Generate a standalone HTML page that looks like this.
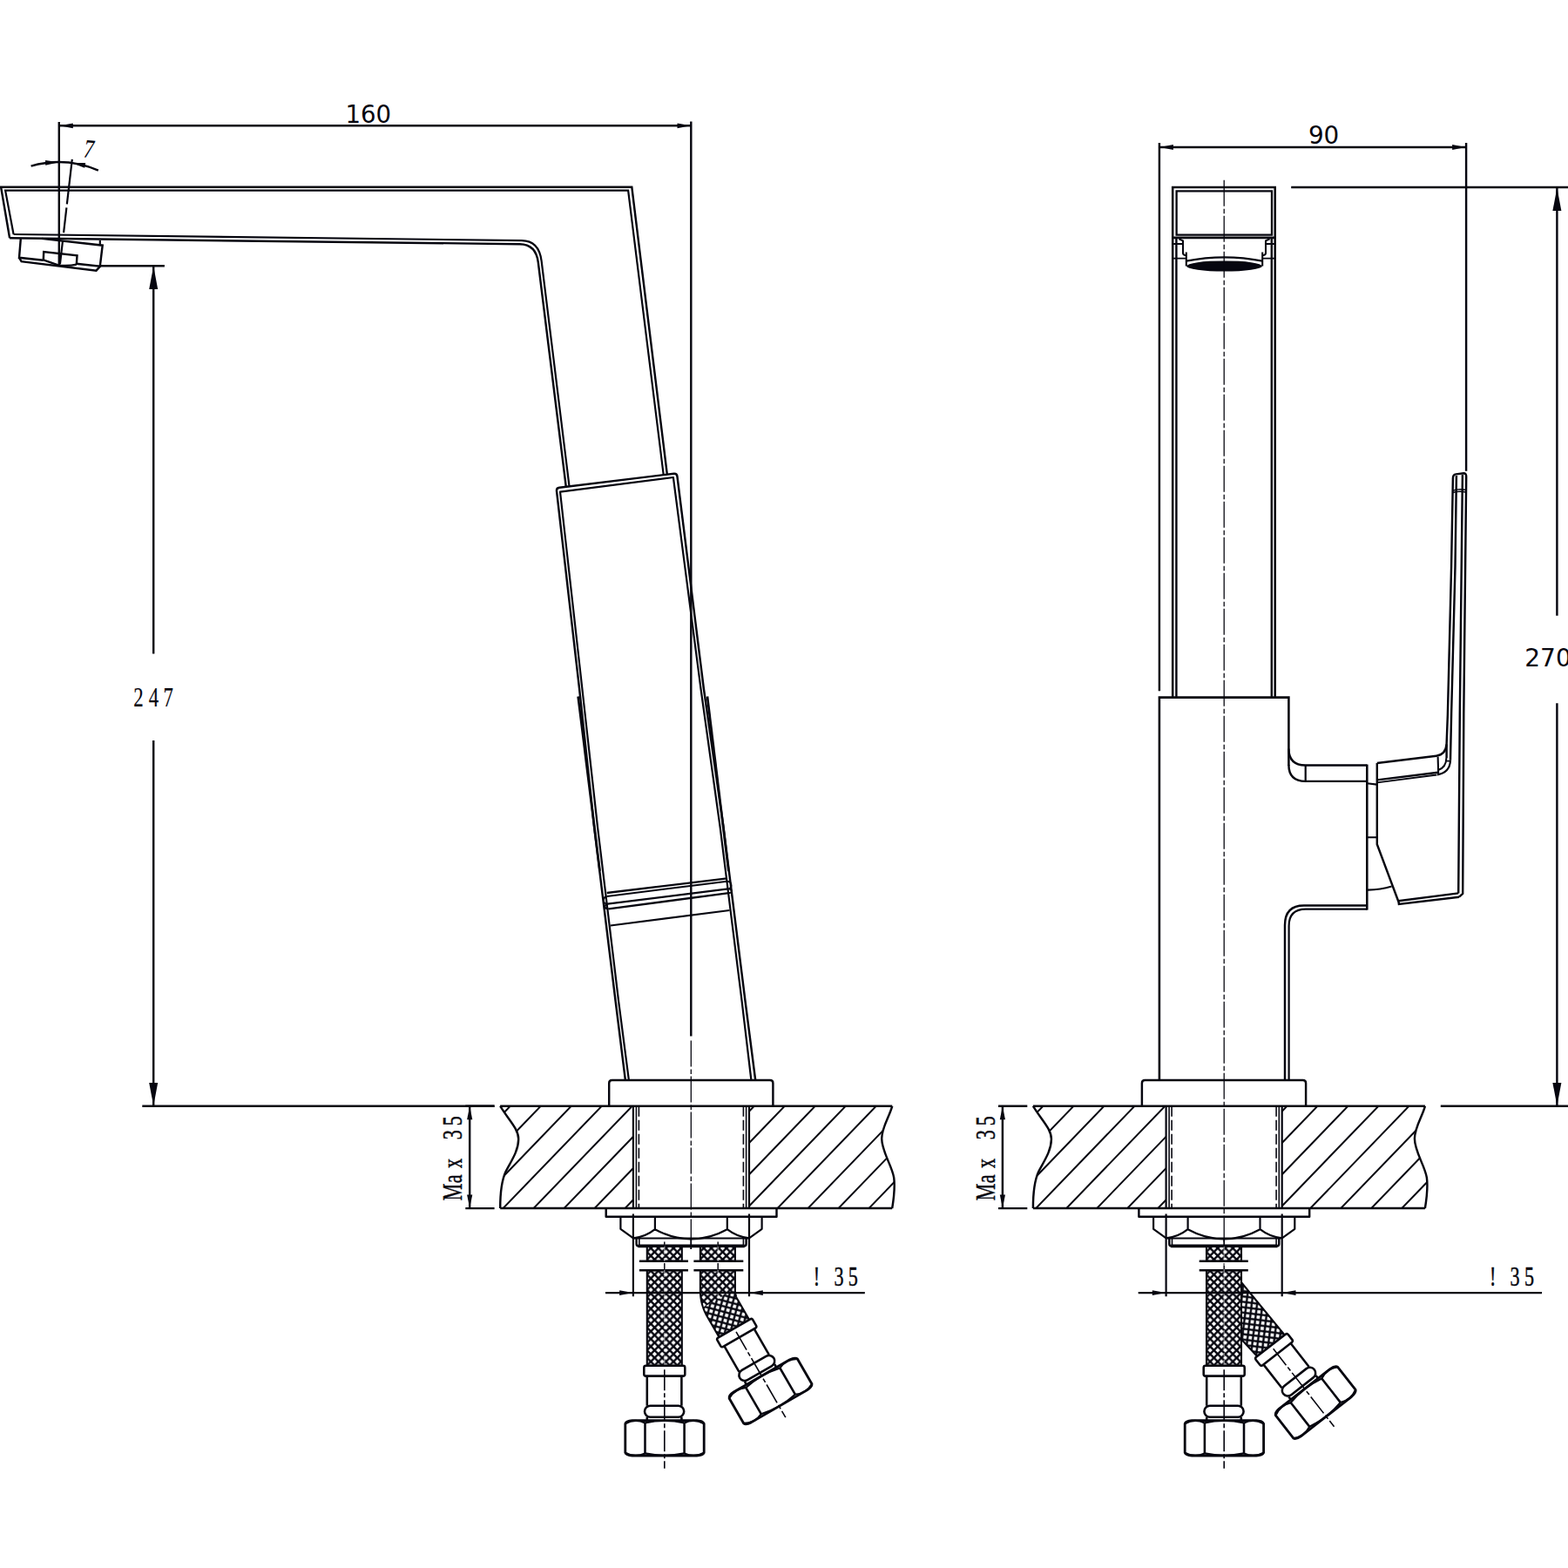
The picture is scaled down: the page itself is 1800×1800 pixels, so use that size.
<!DOCTYPE html>
<html lang="en">
<head>
<meta charset="utf-8">
<title>Faucet dimensional drawing</title>
<style>
html,body{margin:0;padding:0;background:#fff;}
body{width:1800px;height:1800px;overflow:hidden;}
svg{display:block;}
</style>
</head>
<body>
<svg width="1800" height="1800" viewBox="0 0 1800 1800" stroke="#06060f" fill="none" stroke-linecap="butt" stroke-linejoin="round">
<rect x="0" y="0" width="1800" height="1800" fill="#fff" stroke="none"/>
<defs>
<clipPath id="clipL"><path d="M574.2,1269.7 C584,1286 595.5,1296 595.2,1308 C595,1322 586,1334 580.5,1345 C575.5,1356 574.2,1370 574.2,1387.1 L726.9,1387.1 L726.9,1269.7 Z"/></clipPath>
<clipPath id="clipR"><path d="M1024.2,1269.7 C1021.5,1281 1012.2,1294 1012.2,1307 C1012.2,1322 1024,1338 1026.2,1352 C1027.8,1364 1026,1376 1024.2,1387.1 L860,1387.1 L860,1269.7 Z"/></clipPath>
<g id="deck"><g clip-path="url(#clipL)"><path d="M434.5,1390.2 L553.8,1266.6 M469.5,1390.2 L588.8,1266.6 M504.5,1390.2 L623.8,1266.6 M539.5,1390.2 L658.8,1266.6 M574.5,1390.2 L693.8,1266.6 M609.5,1390.2 L728.8,1266.6 M644.5,1390.2 L763.8,1266.6 M679.5,1390.2 L798.8,1266.6 M714.5,1390.2 L833.8,1266.6 M749.5,1390.2 L868.8,1266.6 M784.5,1390.2 L903.8,1266.6 M819.5,1390.2 L938.8,1266.6 M854.5,1390.2 L973.8,1266.6 M889.5,1390.2 L1008.8,1266.6 M924.5,1390.2 L1043.8,1266.6 M959.5,1390.2 L1078.8,1266.6 M994.5,1390.2 L1113.8,1266.6 M1029.5,1390.2 L1148.8,1266.6 M1064.5,1390.2 L1183.8,1266.6 M1099.5,1390.2 L1218.8,1266.6" stroke-width="2.01" fill="none"/></g><g clip-path="url(#clipR)"><path d="M434.5,1390.2 L553.8,1266.6 M469.5,1390.2 L588.8,1266.6 M504.5,1390.2 L623.8,1266.6 M539.5,1390.2 L658.8,1266.6 M574.5,1390.2 L693.8,1266.6 M609.5,1390.2 L728.8,1266.6 M644.5,1390.2 L763.8,1266.6 M679.5,1390.2 L798.8,1266.6 M714.5,1390.2 L833.8,1266.6 M749.5,1390.2 L868.8,1266.6 M784.5,1390.2 L903.8,1266.6 M819.5,1390.2 L938.8,1266.6 M854.5,1390.2 L973.8,1266.6 M889.5,1390.2 L1008.8,1266.6 M924.5,1390.2 L1043.8,1266.6 M959.5,1390.2 L1078.8,1266.6 M994.5,1390.2 L1113.8,1266.6 M1029.5,1390.2 L1148.8,1266.6 M1064.5,1390.2 L1183.8,1266.6 M1099.5,1390.2 L1218.8,1266.6" stroke-width="2.01" fill="none"/></g><path d="M574.2,1269.7 C584,1286 595.5,1296 595.2,1308 C595,1322 586,1334 580.5,1345 C575.5,1356 574.2,1370 574.2,1387.1" stroke-width="2.44" fill="none"/><path d="M1024.2,1269.7 C1021.5,1281 1012.2,1294 1012.2,1307 C1012.2,1322 1024,1338 1026.2,1352 C1027.8,1364 1026,1376 1024.2,1387.1" stroke-width="2.44" fill="none"/><path d="M574.2,1269.7 L1024.2,1269.7 M574.2,1387.1 L1024.2,1387.1" stroke-width="2.5" fill="none"/><path d="M726.9,1269.7 L726.9,1387 M860,1269.7 L860,1387 M726.9,1393.6 L726.9,1488.3 M860,1393.6 L860,1488.3" stroke-width="2.2" fill="none"/><path d="M730.4,1269.7 L730.4,1387.1 M856.6,1269.7 L856.6,1387.1" stroke-width="1.59" fill="none"/><path d="M733.4,1269.7 L733.4,1387.1 M853.4,1269.7 L853.4,1387.1" stroke-width="1.59" fill="none" stroke-dasharray="12 4"/><path d="M695.7,1387.1 L695.7,1396.8 L891.5,1396.8 L891.5,1387.1" stroke-width="2.44" fill="none"/><path d="M712.4,1396.8 L712.4,1410.8 L727.0,1421.3 M874.6,1396.8 L874.6,1410.8 L860,1421.3 M751.9,1396.8 L751.9,1411.2 M834.8,1396.8 L834.8,1411.2 M727.0,1421.3 Q741,1420 751.9,1411.2 Q772,1422.3 793.3,1422.3 Q815,1422.3 834.8,1411.2 Q846,1420 860,1421.3" stroke-width="2.2" fill="none"/><path d="M728,1421.5 L858.8,1421.5" stroke-width="2.2" fill="none"/><path d="M730.6,1421.5 L730.6,1428 Q730.6,1430.6 733.4,1430.6 L853.8,1430.6 Q856.6,1430.6 856.6,1428 L856.6,1421.5" stroke-width="2.44" fill="none"/><path d="M732.5,1430.3 L854.6,1430.3" stroke-width="3.66" fill="none"/><path d="M733.8,1421.5 L733.8,1430 M853.4,1421.5 L853.4,1430" stroke-width="1.59" fill="none"/></g>
<g id="max35"><path d="M534.3,1387.1 L567.6,1387.1 M534.3,1269.7 L567.6,1269.7 M539.2,1269.7 L539.2,1387.1" stroke-width="2.44" fill="none"/><polygon points="539.2,1270.1 536.1,1285.3 542.3,1285.3" fill="#06060f" stroke="none"/><polygon points="539.2,1386.7 536.1,1371.5 542.3,1371.5" fill="#06060f" stroke="none"/></g>
<g id="fit"><rect x="-23.5" y="0" width="47" height="11.8" rx="2.2" ry="2.2" stroke-width="2.56" fill="#fff"/><path d="M-20,11.8 L-20,46 M19.6,11.8 L19.6,46" stroke-width="2.56" fill="none"/><rect x="-22.8" y="45.9" width="45.2" height="13" rx="6.5" ry="6.5" stroke-width="2.56" fill="#fff"/><path d="M-20,58.9 L-20,63 M19.6,58.9 L19.6,63" stroke-width="2.56" fill="none"/><path d="M-45,66.6 Q-44,63.3 -37,62.9 L37,62.9 Q44,63.3 45.4,66.6 L45.4,99.8 Q44,102.8 37,103.2 L-37,103.2 Q-44,102.8 -45,99.8 Z" stroke-width="2.81" fill="#fff"/><path d="M-45,66.6 Q-34,60.2 -22.3,65.6 Q0,60.6 22.8,65.6 Q34,60.2 45.4,66.6 M-45,99.8 Q-34,106 -22.3,100.6 Q0,105.6 22.8,100.6 Q34,106 45.4,99.8" stroke-width="2.2" fill="none"/><path d="M-22.3,65.4 L-22.3,100.8 M22.8,65.4 L22.8,100.8" stroke-width="2.56" fill="none"/><path d="M0,4.5 L0,118" stroke-width="1.59" fill="none" stroke-dasharray="24 3 5 3"/></g>
<pattern id="braid" width="8.68" height="8.68" patternUnits="userSpaceOnUse" patternTransform="translate(747.1,1437.2)"><rect width="8.68" height="8.68" fill="#06060f" stroke="none"/><path d="M1.66,4.34 L4.34,1.66 L7.02,4.34 L4.34,7.02 Z M-2.68,0 L0,-2.68 L2.68,0 L0,2.68 Z M6,0 L8.68,-2.68 L11.36,0 L8.68,2.68 Z M-2.68,8.68 L0,6 L2.68,8.68 L0,11.36 Z M6,8.68 L8.68,6 L11.36,8.68 L8.68,11.36 Z" fill="#fff" stroke="none"/></pattern>
<pattern id="braid30" width="8.68" height="8.68" patternUnits="userSpaceOnUse" patternTransform="translate(842.8,1525) rotate(-30)"><rect width="8.68" height="8.68" fill="#06060f" stroke="none"/><path d="M1.66,4.34 L4.34,1.66 L7.02,4.34 L4.34,7.02 Z M-2.68,0 L0,-2.68 L2.68,0 L0,2.68 Z M6,0 L8.68,-2.68 L11.36,0 L8.68,2.68 Z M-2.68,8.68 L0,6 L2.68,8.68 L0,11.36 Z M6,8.68 L8.68,6 L11.36,8.68 L8.68,11.36 Z" fill="#fff" stroke="none"/></pattern>
<pattern id="braid38" width="8.68" height="8.68" patternUnits="userSpaceOnUse" patternTransform="translate(1458.9,1544.75) rotate(-38)"><rect width="8.68" height="8.68" fill="#06060f" stroke="none"/><path d="M1.66,4.34 L4.34,1.66 L7.02,4.34 L4.34,7.02 Z M-2.68,0 L0,-2.68 L2.68,0 L0,2.68 Z M6,0 L8.68,-2.68 L11.36,0 L8.68,2.68 Z M-2.68,8.68 L0,6 L2.68,8.68 L0,11.36 Z M6,8.68 L8.68,6 L11.36,8.68 L8.68,11.36 Z" fill="#fff" stroke="none"/></pattern>
<pattern id="braidf" width="8.68" height="8.68" patternUnits="userSpaceOnUse" patternTransform="translate(1389.2,1437.2)"><rect width="8.68" height="8.68" fill="#06060f" stroke="none"/><path d="M1.66,4.34 L4.34,1.66 L7.02,4.34 L4.34,7.02 Z M-2.68,0 L0,-2.68 L2.68,0 L0,2.68 Z M6,0 L8.68,-2.68 L11.36,0 L8.68,2.68 Z M-2.68,8.68 L0,6 L2.68,8.68 L0,11.36 Z M6,8.68 L8.68,6 L11.36,8.68 L8.68,11.36 Z" fill="#fff" stroke="none"/></pattern>
</defs>
<g id="side-view">
<line x1="67.8" y1="140" x2="67.8" y2="304.5" stroke-width="2.44"/>
<line x1="793.3" y1="139.5" x2="793.3" y2="1189.6" stroke-width="2.44"/>
<line x1="67.8" y1="144.3" x2="793.3" y2="144.3" stroke-width="2.44"/>
<polygon points="68.3,144.3 83.8,141.4 83.8,147.2" fill="#06060f" stroke="none"/>
<polygon points="793,144.3 777.5,147.2 777.5,141.4" fill="#06060f" stroke="none"/>
<text x="422.8" y="141.2" font-family="'DejaVu Sans','Liberation Sans',sans-serif" font-size="27.6" text-anchor="middle" fill="#06060f" stroke="none">160</text>
<path d="M35.6,190.6 A116,116 0 0 1 112.8,195.6" stroke-width="2.44" fill="none"/>
<polygon points="67.6,186.2 52.23,189.72 52,183.92" fill="#06060f" stroke="none"/>
<polygon points="82.4,187.1 98.17,186.99 97.14,192.7" fill="#06060f" stroke="none"/>
<line x1="82.8" y1="182.8" x2="68.9" y2="303.3" stroke-width="2.2" stroke-dasharray="52 4 29 9 40 0"/>
<text transform="translate(95.6,180.4) rotate(4) scale(0.78,1)" font-family="'Liberation Serif',serif" font-style="italic" font-size="30" fill="#06060f" stroke="none">7</text>
<path d="M11.1,273.3 L1.1,214.7 L725.3,214.7 L765.9,545.1" stroke-width="2.44" fill="none" stroke-linejoin="miter"/>
<path d="M11.1,273.3 L596.7,280.2 Q615.23,280.42 617.8,301.1 L649.8,559" stroke-width="2.44" fill="none"/>
<path d="M15.6,269 L6.1,218.6 L721.1,218.6 L761.8,545.8" stroke-width="2.2" fill="none" stroke-linejoin="miter"/>
<path d="M15.6,269 L598.9,276.1 Q618.74,276.34 621.6,299.5 L653.6,559" stroke-width="2.2" fill="none"/>
<path d="M48,273.9 L117.7,281.7 L114.8,305.6 L87.8,302.8" stroke-width="2.44" fill="none" stroke-linejoin="miter"/>
<path d="M23.8,274.1 L22,295.8 L49.8,298.7" stroke-width="2.44" fill="none" stroke-linejoin="miter"/>
<path d="M22,295.8 L24.6,300.1 L110.5,310.6 L114.8,305.9" stroke-width="2.44" fill="none" stroke-linejoin="miter"/>
<line x1="114.8" y1="276" x2="114.8" y2="281.2" stroke-width="2.2"/>
<path d="M49.8,298.6 L50.2,289 L88.5,293.3 L87.8,304.0" stroke-width="2.44" fill="none" stroke-linejoin="miter"/>
<path d="M49.8,298.4 L67.5,304.6 Q80,305.4 87.8,303.6" stroke-width="2.2" fill="none"/>
<line x1="114.8" y1="305.2" x2="188.9" y2="305.2" stroke-width="2.44"/>
<line x1="176.2" y1="306" x2="176.2" y2="750.6" stroke-width="2.44"/>
<line x1="176.2" y1="850" x2="176.2" y2="1269" stroke-width="2.44"/>
<polygon points="176.2,305.6 181.2,332.1 171.2,332.1" fill="#06060f" stroke="none"/>
<polygon points="176.2,1269.4 171.2,1242.9 181.2,1242.9" fill="#06060f" stroke="none"/>
<line x1="163.3" y1="1269.7" x2="567.6" y2="1269.7" stroke-width="2.44"/>
<text transform="translate(176,811) rotate(0) scale(0.7,1)" x="-32.41 -7.41 16.45" y="0" font-family="'Liberation Serif','DejaVu Serif',serif" font-size="32.5" fill="#06060f" stroke="#06060f" stroke-width="0.2" xml:space="preserve">247</text>
<path d="M717.9,1240 L706.7,1150 L682.2,950 L665,790 L639,563.68 Q638.6,560.2 642.07,559.78 L773.53,543.72 Q777,543.3 777.43,546.77 L807.8,790 L830.6,950 L855.6,1150 L867.2,1240" stroke-width="2.44" fill="none"/>
<path d="M721.9,1240 L710.2,1150 L686.1,950 L668.3,790 L643,564.6 L772.9,548 L804.4,790 L826.7,950 L851.7,1150 L862.4,1240" stroke-width="2.2" fill="none" stroke-linejoin="round"/>
<line x1="663.6" y1="799.5" x2="688.6" y2="1000" stroke-width="2.68"/>
<line x1="812" y1="799.5" x2="836.4" y2="1000" stroke-width="2.68"/>
<line x1="696.7" y1="1025" x2="834.6" y2="1008.3" stroke-width="2.32"/>
<line x1="696.7" y1="1029" x2="834.6" y2="1011.7" stroke-width="2.07"/>
<line x1="697.5" y1="1037.7" x2="835.8" y2="1020.4" stroke-width="2.32"/>
<line x1="698.75" y1="1043.3" x2="836.7" y2="1025.2" stroke-width="2.32"/>
<line x1="700.8" y1="1062.5" x2="837.5" y2="1045" stroke-width="2.07"/>
<path d="M696.7,1029 Q692.6,1030 692.9,1034 Q693.3,1037.6 697.5,1037.7 Q694.2,1038.6 694.4,1041 Q694.8,1043.4 698.75,1043.3" stroke-width="1.95" fill="none"/>
<path d="M834.6,1011.7 Q838.8,1011.6 839.4,1015.8 Q839.8,1020 835.8,1020.4 Q839.6,1020.6 840,1022.8 Q840.2,1025 836.7,1025.2" stroke-width="1.95" fill="none"/>
<path d="M699.2,1269.7 L699.2,1243.4 Q699.2,1240 702.6,1240 L884.0,1240 Q887.4,1240 887.4,1243.4 L887.4,1269.7" stroke-width="2.44" fill="none"/>
<line x1="793.3" y1="1194.5" x2="793.3" y2="1434" stroke-width="1.28" stroke-dasharray="30 3 5.5 2.5"/>
</g>
<g id="front-view">
<line x1="1330.9" y1="164" x2="1330.9" y2="793.3" stroke-width="2.44"/>
<line x1="1683.1" y1="164" x2="1683.1" y2="540.8" stroke-width="2.44"/>
<line x1="1330.9" y1="169" x2="1683.1" y2="169" stroke-width="2.44"/>
<polygon points="1331.4,169 1346.9,166.1 1346.9,171.9" fill="#06060f" stroke="none"/>
<polygon points="1682.6,169 1667.1,171.9 1667.1,166.1" fill="#06060f" stroke="none"/>
<text x="1519.6" y="165" font-family="'DejaVu Sans','Liberation Sans',sans-serif" font-size="27.8" text-anchor="middle" fill="#06060f" stroke="none">90</text>
<path d="M1346.2,800.6 L1346.2,215 L1463.7,215 L1463.7,800.6" stroke-width="2.56" fill="none" stroke-linejoin="miter"/>
<path d="M1350.6,219.4 L1460,219.4 L1460,269.6 L1350.6,269.6 Z" stroke-width="2.32" fill="none" stroke-linejoin="miter"/>
<line x1="1346.2" y1="272.9" x2="1463.7" y2="272.9" stroke-width="2.68"/>
<line x1="1350.4" y1="273" x2="1350.4" y2="800.6" stroke-width="2.44"/>
<line x1="1459.8" y1="273" x2="1459.8" y2="800.6" stroke-width="2.44"/>
<path d="M1346.2,280 L1358,280 M1452.8,280 L1463.7,280 M1346.2,296.7 L1361.7,296.7 M1448.9,296.7 L1463.7,296.7" stroke-width="1.83" fill="none"/>
<path d="M1353.4,274.2 L1358,276.4 L1358,290.3 Q1358,292.6 1360.4,293 L1361.8,293 M1361.8,289.6 L1361.8,305.5 M1457.6,274.2 L1453,276.4 L1453,290.3 Q1453,292.6 1450.6,293 L1449.2,293 M1449.2,289.6 L1449.2,305.5" stroke-width="2.07" fill="none"/>
<path d="M1361.8,299.6 Q1405.5,291 1449.2,299.6" stroke-width="2.2" fill="none"/>
<ellipse cx="1405.5" cy="305.5" rx="43.4" ry="6.1" fill="#06060f" stroke="none"/>
<line x1="1405.2" y1="206.7" x2="1405.2" y2="1431" stroke-width="1.28" stroke-dasharray="30 3 5.5 2.5"/>
<line x1="1482.2" y1="215" x2="1800" y2="215" stroke-width="2.44"/>
<line x1="1653.8" y1="1269.7" x2="1800" y2="1269.7" stroke-width="2.44"/>
<line x1="1787.4" y1="216" x2="1787.4" y2="706.7" stroke-width="2.44"/>
<line x1="1787.4" y1="807.2" x2="1787.4" y2="1269" stroke-width="2.44"/>
<polygon points="1787.4,215.4 1792.4,241.9 1782.4,241.9" fill="#06060f" stroke="none"/>
<polygon points="1787.4,1269.4 1782.4,1242.9 1792.4,1242.9" fill="#06060f" stroke="none"/>
<text x="1750.3" y="765" font-family="'DejaVu Sans','Liberation Sans',sans-serif" font-size="28" text-anchor="start" fill="#06060f" stroke="none">270</text>
<path d="M1330.9,1240 L1330.9,800.6 L1479.4,800.6 L1479.4,879" stroke-width="2.56" fill="none" stroke-linejoin="miter"/>
<path d="M1479.4,859.5 Q1479.4,878.4 1498.7,878.5 L1569.3,878.5" stroke-width="2.44" fill="none"/>
<path d="M1479.4,878 Q1479.4,896.8 1498.7,896.9 L1569.3,896.9" stroke-width="2.44" fill="none"/>
<line x1="1498.7" y1="878.5" x2="1498.7" y2="896.9" stroke-width="2.2"/>
<line x1="1569.3" y1="877.6" x2="1569.3" y2="1044.6" stroke-width="2.56"/>
<path d="M1569.3,1039.5 L1497,1039.5 Q1475,1039.5 1475,1062 L1475,1240" stroke-width="2.44" fill="none"/>
<path d="M1569.3,1043.6 L1499,1043.6 Q1479.6,1043.6 1479.6,1063 L1479.6,1240" stroke-width="2.2" fill="none"/>
<path d="M1580.8,876 L1580.8,969.2 L1605.4,1035" stroke-width="2.44" fill="none" stroke-linejoin="miter"/>
<path d="M1569.3,899.3 L1580.8,900.6 M1569.3,961.3 L1580.8,961.3" stroke-width="2.07" fill="none"/>
<path d="M1569.3,1021.6 Q1584,1021.8 1597.6,1017.6" stroke-width="2.07" fill="none"/>
<path d="M1580.8,876 L1648.9,867.7 Q1659.6,866.2 1660.6,854.4" stroke-width="2.44" fill="none"/>
<line x1="1580.8" y1="895.4" x2="1650.6" y2="886.8" stroke-width="2.44"/>
<line x1="1580.8" y1="898.3" x2="1649.4" y2="889.5" stroke-width="1.83"/>
<line x1="1650.6" y1="868.6" x2="1651.2" y2="888.8" stroke-width="2.07"/>
<path d="M1651,884 Q1660.2,881 1660.4,870" stroke-width="2.07" fill="none"/>
<path d="M1650,889.4 Q1664.4,887 1665,872.8" stroke-width="2.2" fill="none"/>
<line x1="1661" y1="873.6" x2="1664.8" y2="873.6" stroke-width="1.71"/>
<path d="M1660.6,870 L1660.6,854.4 L1661.9,820 L1666.1,650 L1667.9,549 Q1667.9,544.8 1671.4,544.4 L1680.2,543.3 Q1683.3,543.3 1683.2,547.2 L1680.3,820 L1679.2,1025.8 L1675,1029.7" stroke-width="2.44" fill="none" stroke-linejoin="round"/>
<path d="M1665,872.8 L1666.1,820 L1670.5,650 L1671.9,546" stroke-width="2.44" fill="none"/>
<path d="M1674.2,1025.4 L1675.8,820 L1678.9,545" stroke-width="2.44" fill="none"/>
<path d="M1667.6,563.2 Q1675,560.6 1683.1,562.6 M1667.6,565.6 Q1675,563.2 1683,565" stroke-width="1.59" fill="none"/>
<line x1="1605.2" y1="1034.2" x2="1674.2" y2="1025.4" stroke-width="2.44"/>
<path d="M1605.4,1034.4 L1605.9,1038 L1675,1029.7" stroke-width="2.44" fill="none" stroke-linejoin="miter"/>
<path d="M1310.9,1269.7 L1310.9,1243.4 Q1310.9,1240 1314.3,1240 L1495.7,1240 Q1499.1,1240 1499.1,1243.4 L1499.1,1269.7" stroke-width="2.44" fill="none"/>
</g>
<use href="#deck"/>
<use href="#deck" transform="translate(611.7,0)"/>
<use href="#max35"/>
<use href="#max35" transform="translate(611.7,0)"/>
<text transform="translate(530.3,1368.3) rotate(-90) scale(0.68,1)" x="-14.74 14.84 40.11 68.29 88.2 112.02" y="0" font-family="'Liberation Serif','DejaVu Serif',serif" font-size="32.5" fill="#06060f" stroke="#06060f" stroke-width="0.5" xml:space="preserve">Max 35</text>
<text transform="translate(1142,1368.3) rotate(-90) scale(0.68,1)" x="-14.74 14.84 40.11 68.29 88.2 112.02" y="0" font-family="'Liberation Serif','DejaVu Serif',serif" font-size="32.5" fill="#06060f" stroke="#06060f" stroke-width="0.5" xml:space="preserve">Max 35</text>
<g id="hoses-side">
<rect x="742.8" y="1431" width="40" height="16.8" fill="url(#braid)" stroke-width="2.1"/>
<rect x="742.8" y="1458.3" width="40" height="109.5" fill="url(#braid)" stroke-width="2.1"/>
<rect x="803.9" y="1431" width="40" height="16.8" fill="url(#braid)" stroke-width="2.1"/>
<path d="M843.9,1458.3 L843.9,1481.45 L843.92,1482.42 L843.98,1483.32 L844.07,1484.19 L844.2,1485.03 L844.36,1485.86 L844.56,1486.66 L844.79,1487.46 L845.06,1488.26 L845.37,1489.06 L845.73,1489.86 L846.13,1490.66 L846.6,1491.52 L860.13,1515.02 L825.47,1534.98 L811.91,1511.44 L810.68,1509.19 L809.51,1506.84 L808.45,1504.45 L807.5,1502.01 L806.66,1499.53 L805.92,1497.02 L805.3,1494.47 L804.79,1491.91 L804.4,1489.32 L804.12,1486.71 L803.95,1484.1 L803.9,1481.51 L803.9,1458.3Z" fill="url(#braid)" stroke="none"/>
<clipPath id="clipB"><path d="M763.9,1526.2 L883.9,1456.2 L943.9,1612.2 L763.9,1612.2 Z"/></clipPath>
<path d="M843.9,1458.3 L843.9,1481.45 L843.92,1482.42 L843.98,1483.32 L844.07,1484.19 L844.2,1485.03 L844.36,1485.86 L844.56,1486.66 L844.79,1487.46 L845.06,1488.26 L845.37,1489.06 L845.73,1489.86 L846.13,1490.66 L846.6,1491.52 L860.13,1515.02 L825.47,1534.98 L811.91,1511.44 L810.68,1509.19 L809.51,1506.84 L808.45,1504.45 L807.5,1502.01 L806.66,1499.53 L805.92,1497.02 L805.3,1494.47 L804.79,1491.91 L804.4,1489.32 L804.12,1486.71 L803.95,1484.1 L803.9,1481.51 L803.9,1458.3Z" fill="url(#braid30)" stroke="none" clip-path="url(#clipB)"/>
<path d="M843.9,1458.3 L843.9,1481.45 L843.92,1482.42 L843.98,1483.32 L844.07,1484.19 L844.2,1485.03 L844.36,1485.86 L844.56,1486.66 L844.79,1487.46 L845.06,1488.26 L845.37,1489.06 L845.73,1489.86 L846.13,1490.66 L846.6,1491.52 L860.13,1515.02 L825.47,1534.98 L811.91,1511.44 L810.68,1509.19 L809.51,1506.84 L808.45,1504.45 L807.5,1502.01 L806.66,1499.53 L805.92,1497.02 L805.3,1494.47 L804.79,1491.91 L804.4,1489.32 L804.12,1486.71 L803.95,1484.1 L803.9,1481.51 L803.9,1458.3Z" fill="none" stroke-width="2.1" stroke-linejoin="round"/>
<path d="M733.9,1447.8 L790,1447.8 M796.4,1447.8 L853.3,1447.8 M733.9,1458.3 L790,1458.3 M796.4,1458.3 L853.3,1458.3" stroke-width="2.44" fill="none"/>
<line x1="762.8" y1="1426" x2="762.8" y2="1567" stroke-width="1.22" stroke-dasharray="14 4 4 4" stroke="#fff" opacity="0.55"/>
<line x1="824.2" y1="1426" x2="824.2" y2="1490" stroke-width="1.22" stroke-dasharray="14 4 4 4" stroke="#fff" opacity="0.55"/>
<line x1="762.8" y1="1425.5" x2="762.8" y2="1431" stroke-width="1.46"/>
<line x1="824.2" y1="1425.5" x2="824.2" y2="1431" stroke-width="1.46"/>
<line x1="762.8" y1="1450" x2="762.8" y2="1458" stroke-width="1.46"/>
<line x1="824.2" y1="1450" x2="824.2" y2="1458" stroke-width="1.46"/>
<use href="#fit" transform="translate(762.8,1567.8)"/>
<use href="#fit" transform="translate(842.8,1525) rotate(-30)"/>
</g>
<g id="hoses-front">
<path d="M1420,1466 L1474.66,1532.44 L1443.14,1557.06 L1420,1532Z" fill="url(#braid38)" stroke-width="2.1"/>
<rect x="1385" y="1431" width="40" height="16.8" fill="url(#braidf)" stroke-width="2.1"/>
<rect x="1385" y="1458.3" width="40" height="109.5" fill="url(#braidf)" stroke-width="2.1"/>
<path d="M1376.7,1447.8 L1432.8,1447.8 M1376.7,1458.3 L1432.8,1458.3" stroke-width="2.44" fill="none"/>
<line x1="1405.2" y1="1450" x2="1405.2" y2="1458" stroke-width="1.46"/>
<line x1="1405.2" y1="1431" x2="1405.2" y2="1567" stroke-width="1.22" stroke-dasharray="14 4 4 4" stroke="#fff" opacity="0.55"/>
<use href="#fit" transform="translate(1405.2,1567.8)"/>
<use href="#fit" transform="translate(1458.9,1544.75) rotate(-38)"/>
</g>
<line x1="793.3" y1="1421" x2="793.3" y2="1434" stroke-width="1.71"/>
<line x1="1405.2" y1="1421" x2="1405.2" y2="1431" stroke-width="1.71"/>
<line x1="695" y1="1484.1" x2="992.8" y2="1484.1" stroke-width="2.44"/>
<polygon points="726.6,1484.1 711.1,1486.9 711.1,1481.3" fill="#06060f" stroke="none"/>
<polygon points="860.3,1484.1 875.8,1481.3 875.8,1486.9" fill="#06060f" stroke="none"/>
<text transform="translate(937.5,1475.8) rotate(0) scale(0.68,1)" x="-5.41 13.58 29.38 53.49" y="0" font-family="'Liberation Serif','DejaVu Serif',serif" font-size="32.5" fill="#06060f" stroke="#06060f" stroke-width="0.5" xml:space="preserve">! 35</text>
<line x1="1306.7" y1="1484.1" x2="1770" y2="1484.1" stroke-width="2.44"/>
<polygon points="1338.3,1484.1 1322.8,1486.9 1322.8,1481.3" fill="#06060f" stroke="none"/>
<polygon points="1472,1484.1 1487.5,1481.3 1487.5,1486.9" fill="#06060f" stroke="none"/>
<text transform="translate(1713.6,1475.8) rotate(0) scale(0.68,1)" x="-5.41 13.58 29.38 53.49" y="0" font-family="'Liberation Serif','DejaVu Serif',serif" font-size="32.5" fill="#06060f" stroke="#06060f" stroke-width="0.5" xml:space="preserve">! 35</text>
</svg>
</body>
</html>
